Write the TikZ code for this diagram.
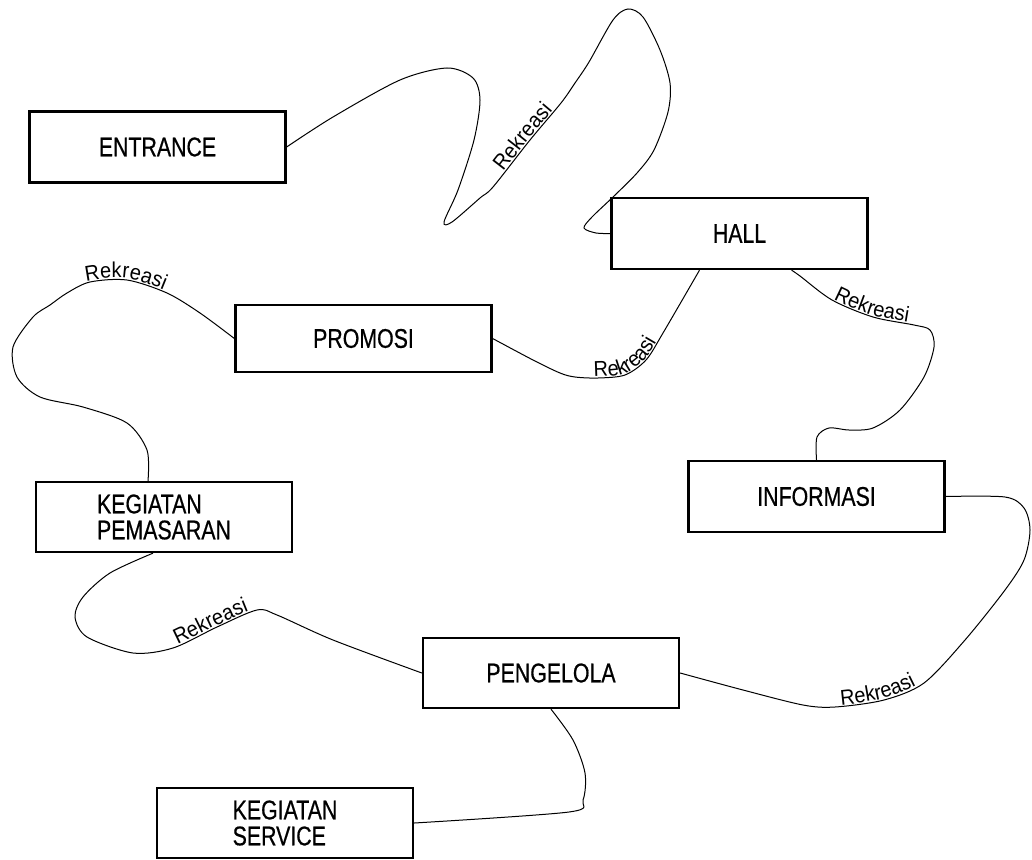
\documentclass[tikz,border=0pt]{standalone}
\usepackage{fontspec}
\setmainfont{Liberation Sans}
\newfontfamily\ruangfam{Liberation Sans}[FakeStretch=0.79,FakeBold=0.6]
\newfontfamily\rekfam{Liberation Sans}[FakeStretch=0.93]
\newcommand\ruangfont{\ruangfam\fontsize{27}{26}\selectfont}
\newcommand\rekfont{\rekfam\fontsize{21.5}{21.5}\selectfont}
\usetikzlibrary{decorations.text}
\tikzset{
% kotak ruang, garis hubungan dan label Rekreasi
ruang/.style={draw,rectangle,line width=2.3pt,minimum width=256pt,minimum height=71pt,inner sep=0pt,font=\ruangfont,align=left},
hubung/.style={line width=1pt},
rekreasi/.style={decorate,decoration={text along path,text={|\rekfont|Rekreasi},text align=center,raise=1.5pt}}
}

\begin{document}
\begin{tikzpicture}[x=1pt,y=-1pt]
\useasboundingbox (0,0) rectangle (1032,859);
\node[ruang] (entr) at (157.5,147) {ENTRANCE};
\node[ruang] (hall) at (739.5,233.5) {HALL};
\node[ruang,minimum height=67pt] (promosi) at (363.5,338.5) {PROMOSI};
\node[ruang,minimum height=70pt] (kp) at (164,517) {KEGIATAN\\PEMASARAN};
\node[ruang] (info) at (816.5,496.5) {INFORMASI};
\node[ruang,minimum height=70pt] (peng) at (551,673) {PENGELOLA};
\node[ruang,minimum height=70pt] (ks) at (285,823) {KEGIATAN\\SERVICE};

\draw[hubung] plot[smooth] coordinates {(entr.east) (333,117) (400,80) (447,68) (473,78) (480,100) (474,140) (458,190) (444,222) (452,222) (480,198) (493,187) (530,140) (561,103) (575,83) (589,62) (613,20) (628,9) (643,17) (660,50) (670,83) (668,112) (654,150) (637,173) (613,197) (592,217) (584,228) (596,233) (hall.west)};
\draw[hubung] plot[smooth] coordinates {(promosi.east) (533,360) (560,373) (575,377) (598,378) (625,375) (646,360) (663,333) ([xshift=-40pt]hall.south)};
\draw[hubung] plot[smooth] coordinates {([xshift=-16pt]kp.north) (147,450) (127,423) (83,407) (40,397) (17,377) (13,347) (33,317) (50,305) (67,293) (90,282) (127,280) (167,293) (200,313) (promosi.west)};
\draw[hubung] plot[smooth] coordinates {([xshift=52pt]hall.south) (800,276) (832,300) (873,317) (914,325) (930,330) (934,347) (924,377) (900,410) (873,428) (849,430) (829,428) (817,437) (info.north)};
\draw[hubung] plot[smooth] coordinates {(peng.east) (743,690) (803,705) (835,707) (884,700) (924,683) (965,640) (1005,590) (1024,560) (1030,530) (1024,508) (1005,497) (info.east)};
\draw[hubung] plot[smooth] coordinates {([xshift=-11pt]kp.south) (110,573) (83,597) (75,617) (87,637) (133,653) (173,648) (217,627) (257,610) (277,615) (333,640) (peng.west)};
\draw[hubung] plot[smooth] coordinates {(peng.south) (573,740) (585,773) (583,800) (569,812) (ks.east)};

\path[rekreasi] plot[smooth] coordinates {(480,198) (493,187) (530,140) (561,103) (575,83)};
\path[rekreasi] plot[smooth] coordinates {(560,373) (575,377) (598,378) (625,375) (646,360) (663,333) (675,312)};
\path[rekreasi] plot[smooth] coordinates {(50,305) (67,293) (90,282) (127,280) (167,293) (200,313)};
\path[rekreasi] plot[smooth] coordinates {(800,276) (832,300) (873,317) (914,325) (930,330) (934,347)};
\path[rekreasi] plot[smooth] coordinates {(803,705) (835,707) (884,700) (924,683) (945,661)};
\path[rekreasi] plot[smooth] coordinates {(150,651) (173,648) (217,627) (257,610) (277,615)};
\end{tikzpicture}
\end{document}
